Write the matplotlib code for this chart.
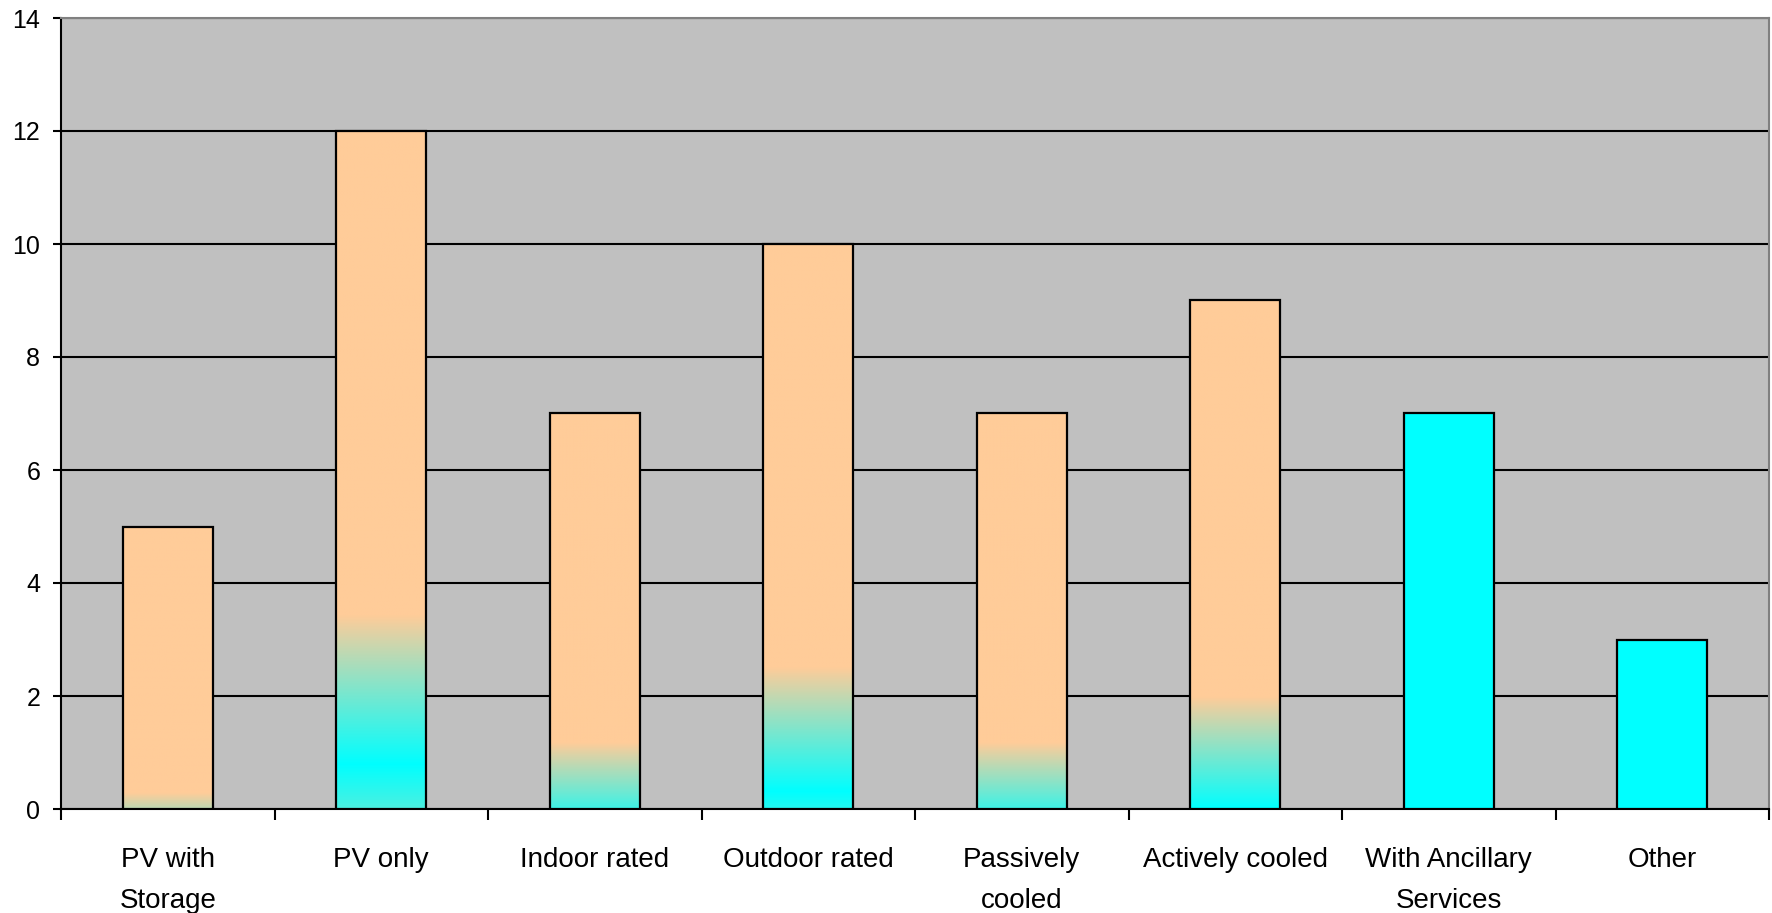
import matplotlib
matplotlib.use('Agg')
import matplotlib.pyplot as plt
import numpy as np

# Category counts
categories = ['PV with\nStorage', 'PV only', 'Indoor rated', 'Outdoor rated',
              'Passively\ncooled', 'Actively cooled', 'With Ancillary\nServices', 'Other']
counts = [5, 12, 7, 10, 7, 9, 7, 3]
# fill style per bar and level where the cyan band peaks in the gradient ones
fill_style = ['gradient'] * 6 + ['solid'] * 2
cyan_peak = [-0.82, 0.78, -0.37, 0.3, -0.37, 0.0, 0.0, 0.0]

PEACH = np.array([255, 204, 153]) / 255
CYAN = np.array([0, 255, 255]) / 255
BLEND = 0.22      # gradient half-width as a fraction of bar height
BAR_W = 0.42

plt.rcParams['font.family'] = ['Liberation Sans', 'DejaVu Sans']

fig = plt.figure(figsize=(17.72, 9.13), dpi=100)
ax = fig.add_axes([61 / 1772, 104 / 913, 1708 / 1772, 791 / 913])
ax.set_facecolor('#C0C0C0')

x = np.arange(len(categories))
for xi, h, style, peak in zip(x, counts, fill_style, cyan_peak):
    x0, x1 = xi - BAR_W / 2, xi + BAR_W / 2
    v = np.linspace(0, h, 400)
    if style == 'gradient':
        t = np.clip(np.abs(v - peak) / (BLEND * h), 0, 1)[:, None]
        col = CYAN * (1 - t) + PEACH * t
    else:
        col = np.tile(CYAN, (len(v), 1))
    ax.imshow(col[:, None, :], extent=(x0, x1, 0, h), origin='lower',
              aspect='auto', interpolation='bilinear', zorder=3)

ax.bar(x, counts, width=BAR_W, facecolor='none', edgecolor='black',
       linewidth=1.6, zorder=4)

ax.set_xlim(-0.5, len(categories) - 0.5)
ax.set_ylim(0, 14)
ax.set_yticks(range(0, 15, 2))
ax.yaxis.grid(True, color='black', linewidth=1.5, zorder=1)
ax.set_axisbelow(True)

ax.set_xticks(x)
ax.set_xticklabels(categories, fontsize=20, linespacing=1.75)
ax.tick_params(axis='x', length=0, pad=27)
ax.set_xticks(np.arange(-0.5, len(categories)), minor=True)
ax.tick_params(axis='x', which='minor', length=8, width=1.5, direction='out')
ax.tick_params(axis='y', labelsize=18, length=6, width=1.5, pad=9)

for side in ('top', 'right'):
    ax.spines[side].set_color('#808080')
    ax.spines[side].set_linewidth(1.5)
for side in ('left', 'bottom'):
    ax.spines[side].set_color('black')
    ax.spines[side].set_linewidth(1.5)

fig.savefig('out.png', dpi=100)
